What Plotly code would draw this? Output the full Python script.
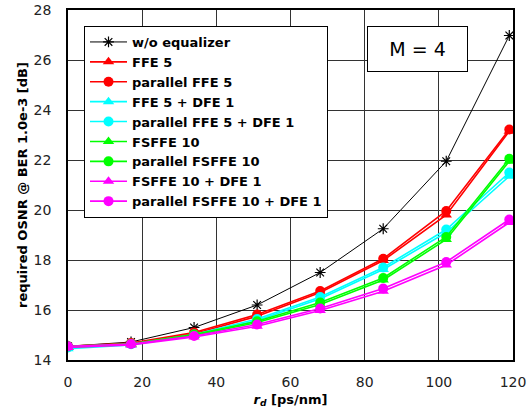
import plotly.graph_objects as go

rd = [0, 17, 34, 51, 68, 85, 102, 119]

series_names = [
    "w/o equalizer", "FFE 5", "parallel FFE 5", "FFE 5 + DFE 1",
    "parallel FFE 5 + DFE 1", "FSFFE 10", "parallel FSFFE 10",
    "FSFFE 10 + DFE 1", "parallel FSFFE 10 + DFE 1",
]
wo_eq = [14.55, 14.72, 15.3, 16.2, 17.5, 19.25, 21.95, 26.98]
ffe5 = [14.5, 14.65, 15.05, 15.75, 16.7, 17.98, 19.8, 23.15]
par_ffe5 = [14.55, 14.68, 15.1, 15.82, 16.76, 18.05, 19.96, 23.22]
ffe5_dfe1 = [14.45, 14.6, 14.98, 15.58, 16.45, 17.62, 19.1, 21.35]
par_ffe5_dfe1 = [14.5, 14.63, 15.02, 15.64, 16.52, 17.7, 19.22, 21.5]
fsffe10 = [14.5, 14.62, 14.98, 15.5, 16.22, 17.2, 18.82, 21.95]
par_fsffe10 = [14.55, 14.65, 15.02, 15.55, 16.3, 17.28, 18.92, 22.05]
fsffe10_dfe1 = [14.5, 14.6, 14.92, 15.35, 15.98, 16.75, 17.8, 19.5]
par_fsffe10_dfe1 = [14.55, 14.64, 14.96, 15.42, 16.06, 16.86, 17.92, 19.62]

values = [wo_eq, ffe5, par_ffe5, ffe5_dfe1, par_ffe5_dfe1,
          fsffe10, par_fsffe10, fsffe10_dfe1, par_fsffe10_dfe1]
colors = ["black", "#ff0000", "#ff0000", "#00ffff", "#00ffff",
          "#00ff00", "#00ff00", "#ff00ff", "#ff00ff"]
symbols = ["asterisk-open", "triangle-up", "circle", "triangle-up", "circle",
           "triangle-up", "circle", "triangle-up", "circle"]

FONT = "DejaVu Sans, Verdana, sans-serif"
W, H = 531, 414
ml, mr, mt, mb = 68, 18, 10, 54
pw, ph = W - ml - mr, H - mt - mb

def px_x(p):
    return (p - ml) / pw

def px_y(p):
    return 1 - (p - mt) / ph

fig = go.Figure()
for i, (name, ys) in enumerate(zip(series_names, values)):
    if i == 0:
        fig.add_trace(go.Scatter(
            x=rd, y=ys, name=name, mode="lines+markers",
            line=dict(color="black", width=1),
            marker=dict(symbol="asterisk-open", size=9,
                        line=dict(color="black", width=1.2)),
        ))
    else:
        fig.add_trace(go.Scatter(
            x=rd, y=ys, name=name, mode="lines+markers",
            line=dict(color=colors[i], width=1.6),
            marker=dict(symbol=symbols[i], size=10, color=colors[i],
                        line=dict(width=0)),
        ))

fig.add_annotation(
    x=px_x(417.5), y=px_y(49), xref="paper", yref="paper",
    xanchor="center", yanchor="middle",
    text="M = 4", showarrow=False,
    font=dict(family=FONT, size=19, color="black"),
    bordercolor="black", borderwidth=1, bgcolor="white",
    width=97, height=42,
)

fig.update_layout(
    width=W, height=H,
    margin=dict(l=ml, r=mr, t=mt, b=mb, autoexpand=False),
    paper_bgcolor="white", plot_bgcolor="white",
    font=dict(family=FONT, size=14, color="#222"),
    showlegend=True,
    legend=dict(
        x=px_x(84), y=px_y(26), xanchor="left", yanchor="top",
        bordercolor="black", borderwidth=1, bgcolor="white",
        font=dict(family=FONT, size=13, color="black", weight="bold"),
        itemwidth=37, tracegroupgap=0,
    ),
    xaxis=dict(
        range=[0, 120], dtick=20, tick0=0,
        showgrid=True, gridcolor="#333", gridwidth=1,
        showline=True, linecolor="black", linewidth=1.5, mirror=True,
        zeroline=False, ticks="", ticklabelstandoff=8, automargin=False,
        title=dict(text="<i>r<sub>d</sub></i> [ps/nm]", standoff=6,
                   font=dict(size=13, color="black", weight="bold")),
    ),
    yaxis=dict(
        range=[14, 28], dtick=2, tick0=14,
        showgrid=True, gridcolor="#333", gridwidth=1,
        showline=True, linecolor="black", linewidth=1.5, mirror=True,
        zeroline=False, ticks="", ticklabelstandoff=12, automargin=False,
        title=dict(text="required OSNR @ BER 1.0e-3 [dB]", standoff=3,
                   font=dict(size=13, color="black", weight="bold")),
    ),
)

fig.write_html("out.html", config={"displayModeBar": False},
               post_script="document.body.style.margin='0';")
